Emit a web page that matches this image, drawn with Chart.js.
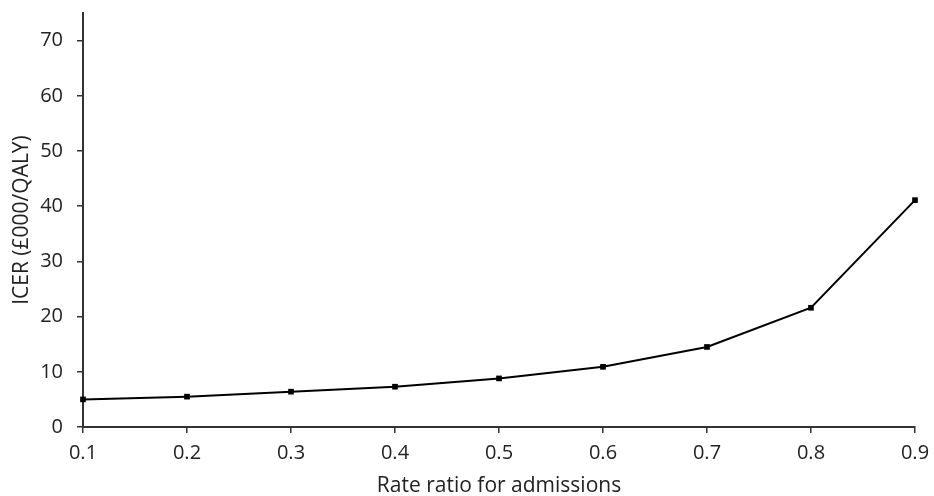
<!DOCTYPE html>
<html>
<head>
<meta charset="utf-8">
<script src="https://cdn.jsdelivr.net/npm/chart.js@4"></script>
<style>
  body { margin: 0; background: #fff; }
  #wrap { width: 934px; height: 496px; }
</style>
</head>
<body>
<div id="wrap"><canvas id="myChart" width="934" height="496"></canvas></div>
<script>
// rate ratio vs ICER
const rateRatio = [0.1, 0.2, 0.3, 0.4, 0.5, 0.6, 0.7, 0.8, 0.9];
const icer = [5.0, 5.5, 6.4, 7.3, 8.8, 10.9, 14.5, 21.6, 41.1];
const yTicks = [0, 10, 20, 30, 40, 50, 60, 70];
const xTicks = [0.1, 0.2, 0.3, 0.4, 0.5, 0.6, 0.7, 0.8, 0.9];

const axisColor = '#333';
const textColor = '#222';
const fontFamily = "'Open Sans', 'Noto Sans', sans-serif";

let ctx = document.getElementById('myChart').getContext('2d');

let icerChart = new Chart(ctx, {
  type: 'line',
  data: {
    datasets: [{
      label: 'ICER',
      data: rateRatio.map((r, i) => ({ x: r, y: icer[i] })),
      borderColor: '#000',
      backgroundColor: '#000',
      borderWidth: 2,
      pointStyle: 'rect',
      pointRadius: 4,
      pointBorderWidth: 0,
      tension: 0,
      clip: false
    }]
  },
  options: {
    responsive: false,
    animation: false,
    layout: { padding: { top: 13, right: 19, bottom: 0, left: 9 } },
    plugins: { legend: { display: false }, tooltip: { enabled: false } },
    scales: {
      x: {
        type: 'linear',
        min: 0.1,
        max: 0.9,
        afterBuildTicks: (axis) => { axis.ticks = xTicks.map(v => ({ value: v })); },
        afterFit: (axis) => {
          axis.height = 69;
          axis.paddingLeft = 0;
          axis.paddingRight = 0;
        },
        ticks: {
          color: textColor,
          font: { family: fontFamily, size: 20 },
          padding: 8,
          maxRotation: 0,
          callback: (v) => v.toFixed(1)
        },
        grid: { drawOnChartArea: false, drawTicks: true, tickLength: 6, color: axisColor, lineWidth: 1.5 },
        border: { display: true, color: axisColor, width: 2 },
        title: {
          display: true,
          text: 'Rate ratio for admissions',
          color: textColor,
          font: { family: fontFamily, size: 21 },
          padding: { top: 0, bottom: -3 }
        }
      },
      y: {
        min: 0,
        max: 75,
        afterBuildTicks: (axis) => { axis.ticks = yTicks.map(v => ({ value: v })); },
        afterFit: (axis) => {
          axis.width = 74;
          axis.paddingTop = 0;
          axis.paddingBottom = 0;
        },
        ticks: {
          color: textColor,
          font: { family: fontFamily, size: 20 },
          padding: 14
        },
        grid: { drawOnChartArea: false, drawTicks: true, tickLength: 6, color: axisColor, lineWidth: 1.5 },
        border: { display: true, color: axisColor, width: 2 },
        title: {
          display: true,
          text: 'ICER (£000/QALY)',
          color: textColor,
          font: { family: fontFamily, size: 21 },
          padding: { top: 0, bottom: 0 }
        }
      }
    }
  }
});
</script>
</body>
</html>
